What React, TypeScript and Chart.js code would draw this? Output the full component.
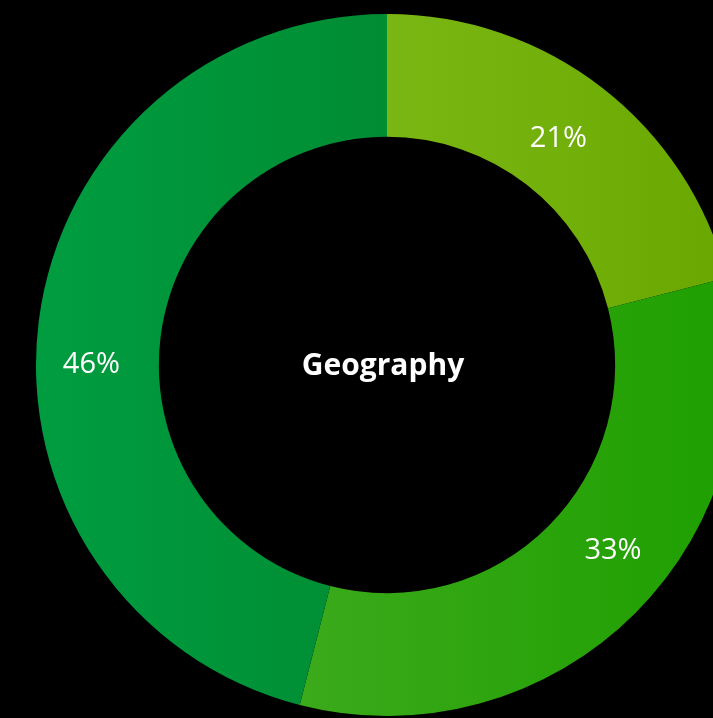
import React, { useEffect, useRef } from "react";
import { Chart, registerables } from "chart.js";

Chart.register(...registerables);

const categories = ["Region A", "Region B", "Region C"];
const values = [21, 33, 46];
const valueLabels = ["21%", "33%", "46%"];
const centerTitle = "Geography";
const gradientStops = [
  ["#7bb714", "#69a800"],
  ["#3baa1b", "#1e9f00"],
  ["#009d40", "#008c33"],
];

const CUTOUT = 0.65;
// label placement along each arc (fraction of the sweep) and radial offset
const labelFrac = [0.488, 0.451, 0.459];
const labelRadialOffset = [-4, 2, 6];

function segmentAngles(i: number) {
  const total = values.reduce((a, b) => a + b, 0);
  let start = -Math.PI / 2;
  for (let k = 0; k < i; k++) start += (values[k] / total) * Math.PI * 2;
  const end = start + (values[i] / total) * Math.PI * 2;
  return [start, end];
}

function xRange(cx: number, rIn: number, rOut: number, a0: number, a1: number) {
  const angles = [a0, a1];
  for (let k = -4; k <= 4; k++) {
    const a = k * Math.PI;
    if (a > a0 && a < a1) angles.push(a);
  }
  let min = Infinity;
  let max = -Infinity;
  for (const a of angles) {
    for (const r of [rIn, rOut]) {
      const x = cx + r * Math.cos(a);
      min = Math.min(min, x);
      max = Math.max(max, x);
    }
  }
  return [min, max];
}

export default function App() {
  const ref = useRef<HTMLCanvasElement | null>(null);
  useEffect(() => {
    document.body.style.margin = "0";
    document.body.style.background = "#000";
    document.body.style.overflow = "hidden";
    const canvas = ref.current!;
    const labelPlugin = {
      id: "labels",
      afterDatasetsDraw(chart: any) {
        const ctx = chart.ctx;
        const meta = chart.getDatasetMeta(0);
        ctx.save();
        ctx.fillStyle = "#ffffff";
        ctx.textAlign = "center";
        ctx.textBaseline = "middle";
        ctx.font = "29px 'Open Sans'";
        meta.data.forEach((arc: any, i: number) => {
          const p = arc.getProps(["x", "y", "startAngle", "endAngle", "innerRadius", "outerRadius"], true);
          const a = p.startAngle + (p.endAngle - p.startAngle) * labelFrac[i];
          const r = (p.innerRadius + p.outerRadius) / 2 + labelRadialOffset[i];
          ctx.fillText(valueLabels[i], p.x + r * Math.cos(a), p.y + r * Math.sin(a) + 2);
        });
        const p0 = meta.data[0].getProps(["x", "y"], true);
        ctx.font = "bold 30px 'Open Sans'";
        ctx.fillText(centerTitle, p0.x - 4, p0.y + 1);
        ctx.restore();
      },
    };
    const chart = new Chart(canvas, {
      type: "doughnut",
      data: {
        labels: categories,
        datasets: [
          {
            data: values,
            borderWidth: 0,
            backgroundColor: (context: any) => {
              const c = context.chart;
              const area = c.chartArea;
              const i = context.dataIndex;
              if (!area) return gradientStops[i][0];
              const cx = (area.left + area.right) / 2;
              const rOut = Math.min(area.right - area.left, area.bottom - area.top) / 2;
              const rIn = rOut * CUTOUT;
              const [a0, a1] = segmentAngles(i);
              const [x0, x1] = xRange(cx, rIn, rOut, a0, a1);
              const g = c.ctx.createLinearGradient(x0, 0, x1, 0);
              g.addColorStop(0, gradientStops[i][0]);
              g.addColorStop(1, gradientStops[i][1]);
              return g;
            },
          },
        ],
      },
      options: {
        responsive: false,
        animation: false,
        cutout: "65%",
        plugins: { legend: { display: false }, tooltip: { enabled: false } },
        layout: { padding: 0 },
      },
      plugins: [labelPlugin],
    });
    return () => chart.destroy();
  }, []);
  return (
    <div style={{ position: "fixed", left: 0, top: 0, width: 713, height: 718, overflow: "hidden", background: "#000" }}>
      <canvas
        ref={ref}
        width={774}
        height={702}
        style={{ position: "absolute", left: 0, top: 14, width: 774, height: 702 }}
      />
    </div>
  );
}
